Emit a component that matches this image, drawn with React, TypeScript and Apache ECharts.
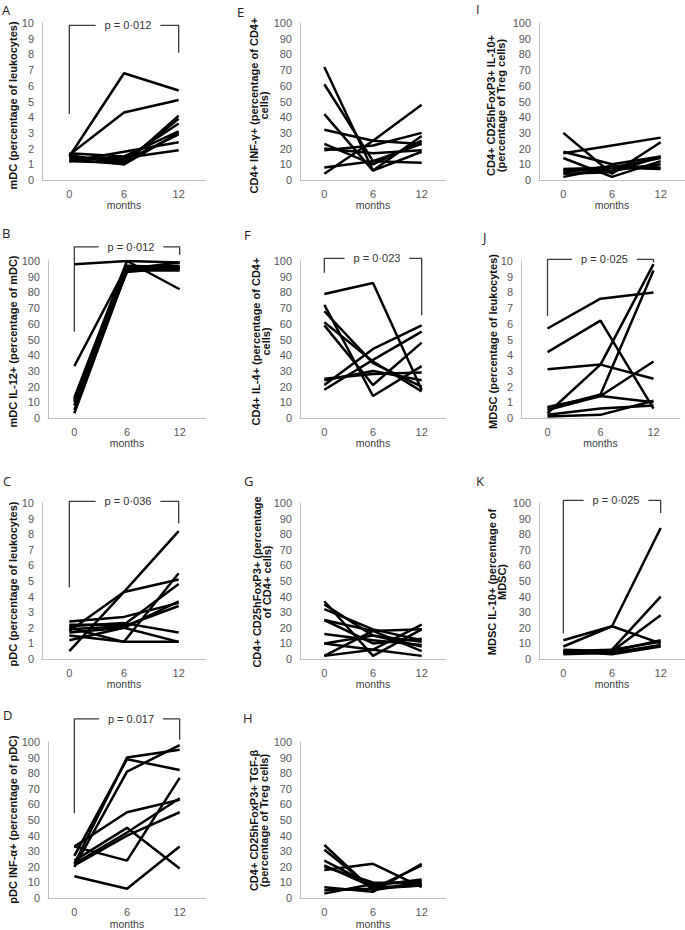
import React, { useEffect, useRef } from "react";
import * as echarts from "echarts";

const months = ["0", "6", "12"];

// Panel A: mDC (percentage of leukocytes)
const mdcLeuko = [
  [1.5, 6.8, 5.7],
  [1.6, 4.3, 5.1],
  [1.3, 1.0, 4.1],
  [1.2, 1.1, 3.9],
  [1.4, 1.3, 3.6],
  [1.7, 1.5, 3.1],
  [1.5, 1.2, 2.9],
  [1.2, 1.8, 2.4],
  [1.4, 1.4, 1.9],
  [1.6, 1.0, 3.0],
];
// Panel B: mDC IL-12+
const mdcIl12 = [
  [98, 100, 99],
  [33, 97, 96],
  [13, 100, 82],
  [12, 95, 95],
  [10, 94, 94],
  [8, 96, 97],
  [5, 95, 99],
  [3, 94, 95],
  [11, 93, 96],
];
// Panel C: pDC (percentage of leukocytes)
const pdcLeuko = [
  [0.5, 4.3, 8.2],
  [1.8, 4.3, 5.1],
  [2.0, 1.1, 5.5],
  [2.4, 2.7, 3.6],
  [2.2, 2.2, 4.8],
  [1.9, 2.1, 3.4],
  [2.1, 2.3, 1.7],
  [1.5, 1.1, 1.1],
  [1.2, 2.0, 1.1],
  [1.7, 2.0, 3.7],
];
// Panel D: pDC INF-α+
const pdcInfa = [
  [27, 89, 82],
  [22, 90, 95],
  [20, 81, 98],
  [33, 55, 63],
  [24, 45, 19],
  [33, 24, 77],
  [14, 6, 33],
  [22, 42, 64],
  [21, 40, 55],
];
// Panel E: CD4+ INF-γ+
const cd4Infg = [
  [72, 6, 18],
  [61, 12, 23],
  [42, 6, 28],
  [32, 25, 23],
  [23, 10, 25],
  [19, 22, 30],
  [8, 12, 11],
  [4, 25, 48],
  [20, 17, 19],
];
// Panel F: CD4+ IL-4+
const cd4Il4 = [
  [79, 86, 18],
  [72, 14, 33],
  [68, 35, 20],
  [61, 36, 17],
  [59, 21, 48],
  [25, 28, 29],
  [21, 44, 59],
  [18, 37, 55],
  [24, 30, 24],
];
// Panel G: CD4+ CD25hFoxP3+
const cd4Treg = [
  [37, 2, 19],
  [35, 15, 8],
  [32, 19, 12],
  [25, 18, 5],
  [25, 10, 13],
  [16, 12, 9],
  [10, 15, 11],
  [2, 18, 19],
  [2, 6, 22],
  [10, 6, 2],
];
// Panel H: Treg TGF-β
const tregTgfb = [
  [34, 5, 10],
  [31, 6, 8],
  [24, 8, 12],
  [20, 10, 9],
  [18, 22, 7],
  [7, 4, 22],
  [5, 6, 21],
  [3, 9, 11],
  [21, 7, 8],
];
// Panel I: Treg IL-10+
const tregIl10 = [
  [17, 22, 27],
  [30, 4, 24],
  [18, 10, 15],
  [14, 2, 12],
  [7, 8, 14],
  [6, 6, 10],
  [5, 9, 8],
  [2, 8, 7],
  [4, 5, 15],
];
// Panel J: MDSC (percentage of leukocytes)
const mdscLeuko = [
  [5.7, 7.6, 8.0],
  [4.2, 6.2, 0.6],
  [3.1, 3.4, 2.5],
  [0.3, 3.4, 9.8],
  [0.6, 1.5, 9.4],
  [0.7, 1.4, 3.6],
  [0.5, 1.4, 1.0],
  [0.2, 0.6, 0.8],
  [0.1, 0.2, 1.1],
];
// Panel K: MDSC IL-10+
const mdscIl10 = [
  [8, 21, 84],
  [12, 21, 10],
  [5, 6, 40],
  [4, 5, 28],
  [6, 5, 12],
  [3, 4, 9],
  [5, 3, 8],
  [4, 6, 11],
];

// significance brackets: [left leg bottom, bracket top, right leg bottom]
const bracketA = [4.2, 9.85, 8.1];
const bracketB = [55, 109, 104];
const bracketC = [4.6, 10.1, 8.7];
const bracketD = [54.5, 114.8, 101.5];
const bracketF = [92.5, 101.7, 65.5];
const bracketJ = [6.5, 10.1, 9.9];
const bracketK = [16.4, 101.7, 93.6];

const pA = "p = 0·012";
const pB = "p = 0·012";
const pC = "p = 0·036";
const pD = "p = 0.017";
const pF = "p = 0·023";
const pJ = "p = 0·025";
const pK = "p = 0·025";

const panels = [
  { letter: "A", title: "mDC (percentage of leukocytes)", data: mdcLeuko, max: 10, interval: 1, bracket: bracketA, p: pA },
  { letter: "B", title: "mDC IL-12+ (percentage of mDC)", data: mdcIl12, max: 100, interval: 10, bracket: bracketB, p: pB },
  { letter: "C", title: "pDC (percentage of leukocytes)", data: pdcLeuko, max: 10, interval: 1, bracket: bracketC, p: pC },
  { letter: "D", title: "pDC INF-α+ (percentage of pDC)", data: pdcInfa, max: 100, interval: 10, bracket: bracketD, p: pD },
  { letter: "E", title: "CD4+ INF-γ+ (percentage of CD4+\ncells)", data: cd4Infg, max: 100, interval: 10, bracket: null, p: null },
  { letter: "F", title: "CD4+ IL-4+ (percentage of CD4+\ncells)", data: cd4Il4, max: 100, interval: 10, bracket: bracketF, p: pF },
  { letter: "G", title: "CD4+ CD25hFoxP3+ (percentage\nof CD4+ cells)", data: cd4Treg, max: 100, interval: 10, bracket: null, p: null },
  { letter: "H", title: "CD4+ CD25hFoxP3+ TGF-β\n(percentage of Treg cells)", data: tregTgfb, max: 100, interval: 10, bracket: null, p: null },
  { letter: "I", title: "CD4+ CD25hFoxP3+ IL-10+\n(percentage of Treg cells)", data: tregIl10, max: 100, interval: 10, bracket: null, p: null },
  { letter: "J", title: "MDSC (percentage of leukocytes)", data: mdscLeuko, max: 10, interval: 1, bracket: bracketJ, p: pJ },
  { letter: "K", title: "MDSC IL-10+ (percentage of\nMDSC)", data: mdscIl10, max: 100, interval: 10, bracket: bracketK, p: pK },
];

// layout (pixels): grid box, y-title centre (tx, dy from grid centre), panel letter position
const layouts = [
  { left: 42, top: 23, width: 164, height: 157, tx: 13, dy: 4, lx: 2, ly: 9.5 },
  { left: 48, top: 261, width: 158, height: 157, tx: 13, dy: 2, lx: 2, ly: 233 },
  { left: 42, top: 503, width: 164, height: 156, tx: 13, dy: 3, lx: 3, ly: 481 },
  { left: 48, top: 742, width: 158, height: 157, tx: 12.5, dy: -1, lx: 3, ly: 715 },
  { left: 300, top: 23, width: 146, height: 157, tx: 259, dy: 4, lx: 237, ly: 11.5 },
  { left: 300, top: 261, width: 146, height: 157, tx: 261, dy: 2, lx: 244, ly: 234.5 },
  { left: 300, top: 503, width: 146, height: 156, tx: 262, dy: 1, lx: 244, ly: 481 },
  { left: 300, top: 742, width: 146, height: 157, tx: 259, dy: 0, lx: 243, ly: 717.5 },
  { left: 539, top: 23, width: 146, height: 157, tx: 496, dy: 4, lx: 476, ly: 9 },
  { left: 521, top: 261, width: 159, height: 157, tx: 493, dy: 2, lx: 483, ly: 236.5 },
  { left: 539, top: 503, width: 146, height: 156, tx: 496.5, dy: 1, lx: 476, ly: 480.5 },
];

const FONT = "'Liberation Sans', Arial, sans-serif";
const AXIS_GRAY = "#bfbfbf";
const TICK_COLOR = "#595959";

export default function App() {
  const ref = useRef<HTMLDivElement>(null);

  useEffect(() => {
    if (!ref.current) return;
    const chart = echarts.init(ref.current, null, { renderer: "svg" });

    const grid: any[] = [];
    const xAxis: any[] = [];
    const yAxis: any[] = [];
    const series: any[] = [];

    panels.forEach((p, i) => {
      const L = layouts[i];
      grid.push({ left: L.left, top: L.top, width: L.width, height: L.height, containLabel: false });
      xAxis.push({
        type: "category",
        gridIndex: i,
        data: months,
        boundaryGap: true,
        axisTick: { show: false },
        axisLine: { lineStyle: { color: AXIS_GRAY, width: 1 } },
        axisLabel: { color: TICK_COLOR, fontSize: 11, fontFamily: FONT, margin: 8 },
        name: "months",
        nameLocation: "middle",
        nameGap: 19,
        nameTextStyle: { color: "#404040", fontSize: 10.5, fontFamily: FONT },
      });
      yAxis.push({
        type: "value",
        gridIndex: i,
        min: 0,
        max: p.max,
        interval: p.interval,
        splitLine: { show: false },
        axisTick: { show: false },
        axisLine: { show: true, lineStyle: { color: AXIS_GRAY, width: 1 } },
        axisLabel: { color: TICK_COLOR, fontSize: 11, fontFamily: FONT, margin: 8 },
      });
      p.data.forEach((vals, k) => {
        series.push({
          type: "line",
          name: `${p.letter}-${k + 1}`,
          xAxisIndex: i,
          yAxisIndex: i,
          data: vals,
          symbol: "none",
          silent: true,
          lineStyle: { color: "#000", width: 2.5 },
          emphasis: { disabled: true },
          z: 3,
        });
      });
      if (p.bracket) {
        const b = p.bracket;
        series.push({
          type: "line",
          name: `${p.letter}-bracket`,
          xAxisIndex: i,
          yAxisIndex: i,
          data: [
            [0, b[0]],
            [0, b[1]],
            [2, b[1]],
            [2, b[2]],
          ],
          symbol: "none",
          silent: true,
          clip: false,
          lineStyle: { color: "#3a3a3a", width: 1.3 },
          emphasis: { disabled: true },
          z: 2,
        });
      }
    });

    chart.setOption({
      animation: false,
      backgroundColor: "#fff",
      grid,
      xAxis,
      yAxis,
      series,
    });

    const graphic: any[] = [];
    panels.forEach((p, i) => {
      const L = layouts[i];
      graphic.push({
        type: "text",
        x: L.lx,
        y: L.ly,
        silent: true,
        style: {
          text: p.letter,
          fill: "#222",
          font: `13px 'Open Sans', ${FONT}`,
          verticalAlign: "middle",
        },
      });
      graphic.push({
        type: "text",
        x: L.tx,
        y: L.top + L.height / 2 + L.dy,
        rotation: Math.PI / 2,
        silent: true,
        style: {
          text: p.title,
          fill: "#111",
          font: `bold 11px ${FONT}`,
          align: "center",
          verticalAlign: "middle",
          lineHeight: 10,
        },
      });
      if (p.bracket && p.p) {
        const pt = chart.convertToPixel({ gridIndex: i } as any, [1, p.bracket[1]]) as number[];
        graphic.push({
          type: "text",
          x: pt[0] + 4,
          y: pt[1],
          z: 10,
          silent: true,
          style: {
            text: p.p,
            fill: "#333",
            font: `11px ${FONT}`,
            align: "center",
            verticalAlign: "middle",
            backgroundColor: "#fff",
            padding: [2, 9],
          },
        });
      }
    });
    chart.setOption({ graphic });

    return () => chart.dispose();
  }, []);

  return (
    <div
      ref={ref}
      style={{ position: "absolute", left: 0, top: 0, width: 685, height: 930, background: "#fff" }}
    />
  );
}
